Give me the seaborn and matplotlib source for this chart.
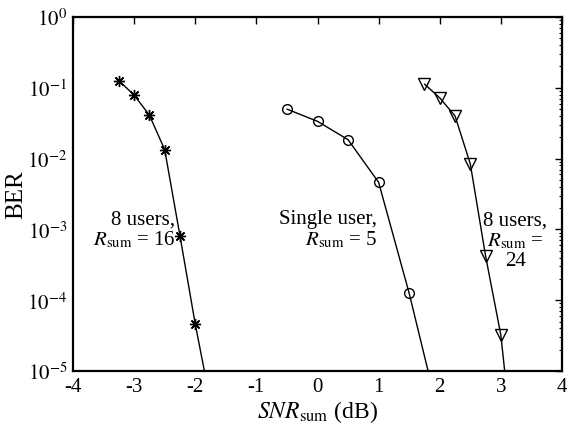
import matplotlib
matplotlib.use("Agg")
import matplotlib.pyplot as plt
import matplotlib.ticker as mticker
import numpy as np
import pandas as pd
import seaborn as sns

# --- data ---
snr_8u16 = [-3.25, -3.0, -2.75, -2.5, -2.25, -2.0, -1.75]
ber_8u16 = [0.126, 0.079, 0.041, 0.0134, 8.1e-4, 4.6e-5, 3.6e-6]

snr_single = [-0.5, 0.0, 0.5, 1.0, 1.5, 2.0]
ber_single = [0.050, 0.0336, 0.0185, 0.00462, 1.25e-4, 2.1e-6]

snr_8u24 = [1.75, 2.0, 2.25, 2.5, 2.75, 3.0, 3.25]
ber_8u24 = [0.113, 0.072, 0.040, 0.0084, 4.2e-4, 3.2e-5, 3e-7]

xticks = [-4, -3, -2, -1, 0, 1, 2, 3, 4]

sns.set_theme(style="white")
plt.rcParams['font.family'] = ['Liberation Serif', 'DejaVu Serif']
plt.rcParams['mathtext.fontset'] = 'stix'
plt.rcParams['axes.unicode_minus'] = False

fig = plt.figure(figsize=(5.67, 4.31), dpi=100)
ax = fig.add_axes([73/567, 1-372/431, (562-73)/567, (372-18)/431])

df1 = pd.DataFrame({"x": snr_8u16, "y": ber_8u16})
df2 = pd.DataFrame({"x": snr_single, "y": ber_single})
df3 = pd.DataFrame({"x": snr_8u24, "y": ber_8u24})

common = dict(color="black", linewidth=1.0, ax=ax, legend=False)
sns.lineplot(data=df1, x="x", y="y", marker=(8, 2, 0), markersize=8,
             markeredgewidth=1.0, markeredgecolor="black", **common)
sns.lineplot(data=df2, x="x", y="y", marker="o", markersize=7,
             markerfacecolor="none", markeredgecolor="black",
             markeredgewidth=1.0, **common)
sns.lineplot(data=df3, x="x", y="y", marker="v", markersize=8,
             markerfacecolor="none", markeredgecolor="black",
             markeredgewidth=1.0, **common)

ax.set_yscale("log")
ax.set_ylim(1e-5, 1)
ax.set_xlim(-4, 4)
ax.set_xticks(xticks)
ax.set_xticklabels([str(t) for t in xticks])
ax.yaxis.set_major_locator(mticker.LogLocator(base=10, numticks=10))
ax.yaxis.set_minor_locator(mticker.LogLocator(base=10, subs=np.arange(2, 10), numticks=20))


def decade_fmt(v, pos):
    e = int(round(np.log10(v)))
    return r"$10^{%d}$" % e


ax.yaxis.set_major_formatter(mticker.FuncFormatter(decade_fmt))
ax.yaxis.set_minor_formatter(mticker.NullFormatter())

ax.tick_params(which="both", direction="in", top=True, right=True,
               labelsize=15, colors="black", pad=4)
ax.tick_params(which="major", length=5, width=1.0)
ax.tick_params(which="minor", length=2.5, width=0.8)
for s in ax.spines.values():
    s.set_visible(True)
    s.set_color("black")
    s.set_linewidth(1.6)

ax.set_xlabel(r"$SNR_{\mathrm{sum}}$ (dB)", fontsize=17, color="black", labelpad=2)
ax.set_ylabel("BER", fontsize=18, color="black", labelpad=0)

tkw = dict(fontsize=15, color="black", linespacing=1.05)
ax.text(-3.0, 1.0e-3, "8 users,\n" + r"$R_{\mathrm{sum}}$ = 16", ha="center", va="center",
        multialignment="right", **tkw)
ax.text(0.98, 1.0e-3, "Single user,\n" + r"$R_{\mathrm{sum}}$ = 5", ha="right", va="center",
        multialignment="right", **tkw)
ax.text(3.24, 7.0e-4, "8 users,\n" + r"$R_{\mathrm{sum}}$ =" + "\n24", ha="center", va="center",
        multialignment="center", **tkw)

fig.savefig("out.png", dpi=100)
